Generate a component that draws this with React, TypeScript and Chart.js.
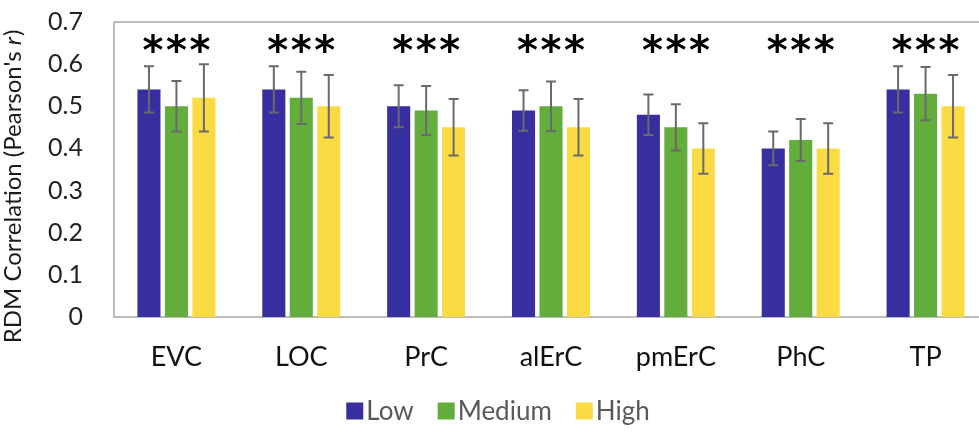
import React, { useEffect, useRef } from "react";
import { Chart, registerables } from "chart.js";

Chart.register(...registerables);

const categories = ["EVC", "LOC", "PrC", "alErC", "pmErC", "PhC", "TP"];
const seriesNames = ["Low", "Medium", "High"];
const lowValues = [0.54, 0.54, 0.5, 0.49, 0.48, 0.4, 0.54];
const mediumValues = [0.5, 0.52, 0.49, 0.5, 0.45, 0.42, 0.53];
const highValues = [0.52, 0.5, 0.45, 0.45, 0.4, 0.4, 0.5];
const lowErrors = [0.055, 0.055, 0.05, 0.048, 0.048, 0.04, 0.055];
const mediumErrors = [0.06, 0.062, 0.058, 0.059, 0.055, 0.05, 0.063];
const highErrors = [0.08, 0.074, 0.067, 0.067, 0.06, 0.06, 0.074];
const significance = ["***", "***", "***", "***", "***", "***", "***"];
const yTicks = [0, 0.1, 0.2, 0.3, 0.4, 0.5, 0.6, 0.7];
const seriesColors = ["#372ea0", "#62ad3b", "#fadb44"];
const yTitle = "RDM Correlation (Pearson's ";
const yTitleItalic = "r";

const seriesValues = [lowValues, mediumValues, highValues];
const seriesErrors = [lowErrors, mediumErrors, highErrors];

const decorPlugin = {
  id: "decor",
  beforeDatasetsDraw(chart: any) {
    const { ctx, chartArea } = chart;
    ctx.save();
    ctx.strokeStyle = "#a6a6a6";
    ctx.lineWidth = 1.5;
    ctx.strokeRect(chartArea.left, chartArea.top, chartArea.right - chartArea.left, chartArea.bottom - chartArea.top);
    ctx.restore();
  },
  afterDatasetsDraw(chart: any) {
    const { ctx, chartArea } = chart;
    const yScale = chart.scales.y;
    const xScale = chart.scales.x;
    // error bars
    ctx.save();
    ctx.strokeStyle = "#6a6a6a";
    ctx.lineWidth = 2;
    seriesValues.forEach((vals, i) => {
      const meta = chart.getDatasetMeta(i);
      meta.data.forEach((el: any, j: number) => {
        const v = vals[j];
        const e = seriesErrors[i][j];
        const yt = yScale.getPixelForValue(v + e);
        const yb = yScale.getPixelForValue(v - e);
        const x = el.x;
        ctx.beginPath();
        ctx.moveTo(x, yt);
        ctx.lineTo(x, yb);
        ctx.moveTo(x - 5, yt);
        ctx.lineTo(x + 5, yt);
        ctx.moveTo(x - 5, yb);
        ctx.lineTo(x + 5, yb);
        ctx.stroke();
      });
    });
    ctx.restore();

    // significance stars
    ctx.save();
    ctx.fillStyle = "#000";
    ctx.textAlign = "center";
    ctx.textBaseline = "alphabetic";
    ctx.font = "bold 40px 'DejaVu Sans'";
    const m = ctx.measureText("*");
    const w = m.actualBoundingBoxLeft + m.actualBoundingBoxRight;
    const size = (40 * 21) / w;
    ctx.font = `bold ${size}px 'DejaVu Sans'`;
    const m2 = ctx.measureText("*");
    const yOff = (m2.actualBoundingBoxAscent - m2.actualBoundingBoxDescent) / 2;
    significance.forEach((s, j) => {
      const cx = xScale.getPixelForValue(j);
      const n = s.length;
      for (let k = 0; k < n; k++) {
        const sx = cx + (k - (n - 1) / 2) * 23.5;
        ctx.fillText("*", sx, 43 + yOff);
      }
    });
    ctx.restore();

    // y title with italic r
    ctx.save();
    ctx.translate(13, 187);
    ctx.rotate(-Math.PI / 2);
    ctx.fillStyle = "#1a1a1a";
    ctx.textBaseline = "middle";
    ctx.textAlign = "left";
    const fn = "24px Lato";
    const fi = "italic 24px Lato";
    ctx.font = fn;
    const w1 = ctx.measureText(yTitle).width;
    ctx.font = fi;
    const w2 = ctx.measureText(yTitleItalic).width;
    ctx.font = fn;
    const w3 = ctx.measureText(")").width;
    const total = w1 + w2 + w3;
    const x0 = -total / 2;
    ctx.fillText(yTitle, x0, 0);
    ctx.font = fi;
    ctx.fillText(yTitleItalic, x0 + w1, 0);
    ctx.font = fn;
    ctx.fillText(")", x0 + w1 + w2 + 1, 0);
    ctx.restore();

    // legend
    ctx.save();
    ctx.font = "26px Lato";
    ctx.textBaseline = "middle";
    ctx.textAlign = "left";
    const box = 17;
    const gapBoxText = 3;
    const gapItems = 24;
    const widths = seriesNames.map((n) => box + gapBoxText + ctx.measureText(n).width);
    const totalW = widths.reduce((a, b) => a + b, 0) + gapItems * (seriesNames.length - 1);
    let lx = chart.width / 2 - totalW / 2;
    const ly = 411;
    seriesNames.forEach((n, i) => {
      ctx.fillStyle = seriesColors[i];
      ctx.fillRect(lx, ly - box / 2, box, box);
      ctx.fillStyle = "#595959";
      ctx.fillText(n, lx + box + gapBoxText, ly + 1);
      lx += widths[i] + gapItems;
    });
    ctx.restore();
  },
};

export default function App() {
  const ref = useRef<HTMLCanvasElement | null>(null);
  useEffect(() => {
    if (!ref.current) return;
    const chart = new Chart(ref.current, {
      type: "bar",
      data: {
        labels: categories,
        datasets: seriesNames.map((name, i) => ({
          label: name,
          data: seriesValues[i],
          backgroundColor: seriesColors[i],
          borderWidth: 0,
          categoryPercentage: 0.66,
          barPercentage: 0.84,
        })),
      },
      options: {
        animation: false,
        responsive: true,
        maintainAspectRatio: false,
        layout: { padding: { top: 22, left: 0, right: 8, bottom: 0 } },
        plugins: {
          legend: { display: false },
          tooltip: { enabled: false },
        },
        scales: {
          x: {
            grid: { display: false, drawTicks: false },
            border: { display: false },
            ticks: {
              color: "#111",
              font: { family: "Lato", size: 27 },
              padding: 24,
              maxRotation: 0,
            },
            afterFit: (s: any) => {
              s.height = 120;
              s.paddingLeft = 0;
              s.paddingRight = 0;
            },
          },
          y: {
            min: 0,
            max: 0.7,
            grid: { display: false, drawTicks: false },
            border: { display: false },
            afterBuildTicks: (s: any) => {
              s.ticks = yTicks.map((v) => ({ value: v }));
            },
            ticks: {
              color: "#222",
              font: { family: "Lato", size: 25 },
              padding: 31,
              callback: (v: any) => (Number(v) === 0 ? "0" : Number(v).toFixed(1)),
            },
            afterFit: (s: any) => {
              s.width = 114;
              s.paddingTop = 0;
              s.paddingBottom = 0;
            },
          },
        },
      },
      plugins: [decorPlugin],
    });
    return () => chart.destroy();
  }, []);
  return (
    <div style={{ position: "fixed", left: 0, top: 0, width: 979, height: 437, overflow: "hidden", background: "#fff" }}>
      <div style={{ position: "relative", width: 996, height: 437 }}>
        <canvas ref={ref} />
      </div>
    </div>
  );
}
